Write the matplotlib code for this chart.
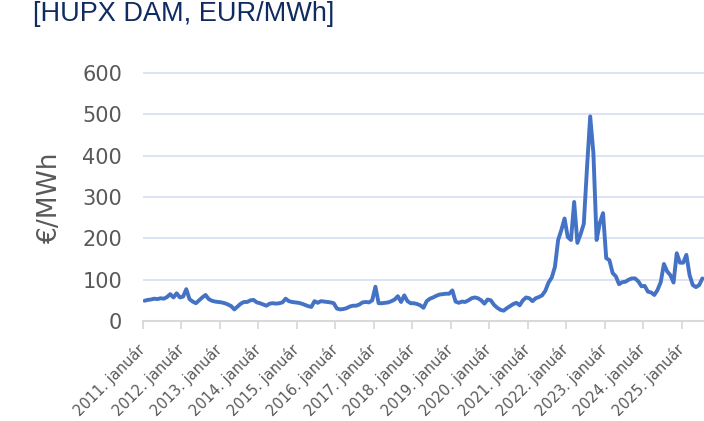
import matplotlib
matplotlib.use("Agg")
import matplotlib.pyplot as plt
import numpy as np

# Monthly HUPX DAM averages, EUR/MWh, Jan 2011 .. Jul 2025
y2011 = [49, 51, 52, 54, 53, 55, 54, 58, 65, 57, 67, 57]
y2012 = [59, 77, 53, 47, 43, 50, 57, 63, 53, 49, 47, 46]
y2013 = [45, 43, 40, 36, 28, 35, 42, 46, 46, 50, 51, 45]
y2014 = [43, 40, 37, 42, 43, 42, 43, 45, 54, 48, 46, 45]
y2015 = [44, 42, 39, 36, 34, 48, 44, 48, 47, 46, 45, 43]
y2016 = [30, 28, 29, 31, 35, 37, 37, 40, 45, 46, 45, 50]
y2017 = [83, 43, 43, 44, 45, 48, 52, 60, 46, 62, 48, 43]
y2018 = [43, 41, 38, 32, 48, 54, 57, 61, 64, 65, 66, 66]
y2019 = [74, 47, 44, 47, 46, 50, 55, 57, 55, 50, 42, 52]
y2020 = [50, 39, 32, 27, 25, 31, 36, 41, 44, 38, 50, 57]
y2021 = [55, 48, 55, 58, 62, 73, 93, 105, 131, 196, 220, 248]
y2022 = [203, 196, 288, 189, 210, 235, 370, 495, 406, 196, 237, 261]
y2023 = [152, 147, 116, 108, 89, 94, 95, 100, 103, 103, 96, 84]
y2024 = [85, 71, 69, 63, 75, 94, 138, 120, 111, 93, 164, 141]
y2025 = [141, 160, 111, 87, 82, 87, 103]

prices = (y2011 + y2012 + y2013 + y2014 + y2015 + y2016 + y2017 + y2018 +
          y2019 + y2020 + y2021 + y2022 + y2023 + y2024 + y2025)
years = list(range(2011, 2026))
tick_labels = [f"{y}. január" for y in years]
yticks = [0, 100, 200, 300, 400, 500, 600]

W, H = 704, 421
fig = plt.figure(figsize=(W / 100, H / 100), dpi=100)
ymax = 605
px_per_unit = (321 - 73) / 600
top_px = 321 - ymax * px_per_unit
ax = fig.add_axes([143 / W, 1 - 321 / H, (704 - 143) / W, (321 - top_px) / H])

x = np.arange(len(prices))
ax.plot(x, prices, color="#4472C4", linewidth=2.8, solid_joinstyle="round",
        solid_capstyle="round", zorder=3)

ax.set_xlim(-0.5, len(prices) - 0.5)
ax.set_ylim(0, ymax)

ax.set_yticks(yticks)
ax.set_yticklabels([str(v) for v in yticks])
ax.yaxis.grid(True, color="#DCE3F4", linewidth=1.4)
ax.set_axisbelow(True)

ax.set_xticks([12 * i - 0.5 for i in range(len(years))])
ax.set_xticklabels(tick_labels, rotation=45, ha="right", va="center",
                   rotation_mode="anchor")

for s in ["top", "right", "left"]:
    ax.spines[s].set_visible(False)
ax.spines["bottom"].set_color("#D9D9D9")
ax.spines["bottom"].set_linewidth(1.5)

ax.tick_params(axis="x", length=6, width=1.3, color="#D9D9D9", pad=13,
               labelsize=10.5, labelcolor="#595959")
ax.tick_params(axis="y", length=0, pad=15, labelsize=15, labelcolor="#595959")

fig.text(50 / W, 1 - 197 / H, "€/MWh", rotation=90, ha="center", va="center",
         fontsize=19, color="#595959")

fig.text(33 / W, 1 - 21 / H, "[HUPX DAM, EUR/MWh]", ha="left", va="baseline",
         fontsize=19.5, color="#0F2B5F", family=["Liberation Sans", "DejaVu Sans"])

fig.savefig("out.png", dpi=100)
